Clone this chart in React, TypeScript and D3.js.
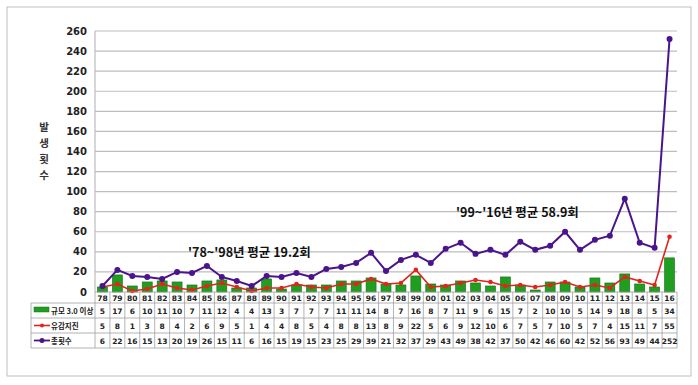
import React from "react";
import * as d3 from "d3";

const years = ["78","79","80","81","82","83","84","85","86","87","88","89","90","91","92","93","94","95","96","97","98","99","00","01","02","03","04","05","06","07","08","09","10","11","12","13","14","15","16"];
const mag3 = [5,17,6,10,11,10,7,11,12,4,4,13,3,7,7,7,11,11,14,8,7,16,8,7,11,9,6,15,7,2,10,10,5,14,9,18,8,5,34];
const felt = [5,8,1,3,8,4,2,6,9,5,1,4,4,8,5,4,8,8,13,8,9,22,5,6,9,12,10,6,7,5,7,10,5,7,4,15,11,7,55];
const total = [6,22,16,15,13,20,19,26,15,11,6,16,15,19,15,23,25,29,39,21,32,37,29,43,49,38,42,37,50,42,46,60,42,52,56,93,49,44,252];
const yTicks = [0,20,40,60,80,100,120,140,160,180,200,220,240,260];
const seriesNames = ["규모 3.0 이상", "유감지진", "총횟수"];
const yTitle = ["발", "생", "횟", "수"];
const notes = ["'78~'98년 평균 19.2회", "'99~'16년 평균 58.9회"];

const GREEN = "#1f9e1f";
const GREEN_DARK = "#157015";
const RED = "#e3231c";
const PURPLE = "#4a148c";
const GRID = "#bdbdbd";

export default function App() {
  const W = 698, H = 385;
  const left = 95, right = 677, top = 31, bottom = 292;
  const x = d3.scaleBand<string>().domain(years).range([left, right]).padding(0);
  const y = d3.scaleLinear().domain([0, 260]).range([bottom, top]);
  const bw = x.bandwidth();
  const cx = (i: number) => (x(years[i]) as number) + bw / 2;
  const line = d3.line<number>().x((_, i) => cx(i)).y((d) => y(d));

  const rowY = [292, 303, 318, 333, 348];
  const tableLeft = 31;
  const num = "'DejaVu Sans', 'Noto Sans', sans-serif";
  const kr = "'Noto Sans CJK KR', 'Noto Sans', sans-serif";

  const rows = [mag3, felt, total];

  return (
    <svg width={W} height={H} style={{ position: "absolute", left: 0, top: 0, background: "#fff" }}>
      <rect x={7} y={7} width={684} height={369} fill="#fff" stroke="#bfbfbf" strokeWidth={1} />
      {/* grid */}
      {yTicks.map((t) => (
        <g key={t}>
          {t > 0 && <line x1={left} x2={right} y1={y(t)} y2={y(t)} stroke={GRID} strokeWidth={1.2} />}
          <text x={87} y={y(t) + 3.5} textAnchor="end" fontFamily={num} fontWeight="bold" fontSize={10} fill="#222">{t}</text>
        </g>
      ))}
      <line x1={left} x2={left} y1={top} y2={bottom} stroke={GRID} strokeWidth={1.2} />
      {/* y title */}
      {yTitle.map((c, i) => (
        <text key={c} x={44} y={131 + i * 16} textAnchor="middle" fontFamily={kr} fontWeight="bold" fontSize={10.5} fill="#333">{c}</text>
      ))}
      {/* bars */}
      {mag3.map((v, i) => (
        <rect key={i} x={cx(i) - 5} y={y(v)} width={10} height={bottom - y(v)} fill={GREEN} stroke={GREEN_DARK} strokeWidth={0.6} />
      ))}
      {/* lines */}
      <path d={line(felt) || ""} fill="none" stroke={RED} strokeWidth={1.6} />
      {felt.map((v, i) => (
        <circle key={i} cx={cx(i)} cy={y(v)} r={2.3} fill={RED} />
      ))}
      <path d={line(total) || ""} fill="none" stroke={PURPLE} strokeWidth={2} />
      {total.map((v, i) => (
        <circle key={i} cx={cx(i)} cy={y(v)} r={3} fill={PURPLE} />
      ))}
      {/* notes */}
      <text x={188} y={257} fontFamily={kr} fontWeight="bold" fontSize={12.5} fill="#111">{notes[0]}</text>
      <text x={456} y={217} fontFamily={kr} fontWeight="bold" fontSize={12.5} fill="#111">{notes[1]}</text>
      {/* table */}
      <g stroke="#a0a0a0" strokeWidth={0.8}>
        {years.map((yr, i) => (
          <line key={i} x1={x(yr) as number} x2={x(yr) as number} y1={rowY[0]} y2={rowY[4]} />
        ))}
        <line x1={right} x2={right} y1={rowY[0]} y2={rowY[4]} />
        <line x1={tableLeft} x2={tableLeft} y1={rowY[1]} y2={rowY[4]} />
        <line x1={left} x2={right} y1={rowY[0]} y2={rowY[0]} />
        {rowY.slice(1).map((ry, k) => (
          <line key={k} x1={tableLeft} x2={right} y1={ry} y2={ry} />
        ))}
      </g>
      {years.map((yr, i) => (
        <text key={yr} x={cx(i)} y={300.5} textAnchor="middle" fontFamily={num} fontWeight="bold" fontSize={7.5} fill="#222">{yr}</text>
      ))}
      {rows.map((r, k) =>
        r.map((v, i) => (
          <text key={k + "-" + i} x={cx(i)} y={(rowY[k + 1] + rowY[k + 2]) / 2 + 3} textAnchor="middle" fontFamily={num} fontWeight="bold" fontSize={7.5} fill="#222">{v}</text>
        ))
      )}
      {/* legend keys */}
      <rect x={34} y={307} width={15} height={5} fill={GREEN} stroke={GREEN_DARK} strokeWidth={0.5} />
      <line x1={34} x2={50} y1={325.5} y2={325.5} stroke={RED} strokeWidth={1.6} />
      <circle cx={42} cy={325.5} r={2} fill={RED} />
      <line x1={34} x2={50} y1={340.5} y2={340.5} stroke={PURPLE} strokeWidth={1.8} />
      <circle cx={42} cy={340.5} r={2.5} fill={PURPLE} />
      {seriesNames.map((s, k) => (
        <text key={s} x={51} y={(rowY[k + 1] + rowY[k + 2]) / 2 + 3} fontFamily={kr} fontWeight="bold" fontSize={7.5} fill="#222">{s}</text>
      ))}
    </svg>
  );
}
